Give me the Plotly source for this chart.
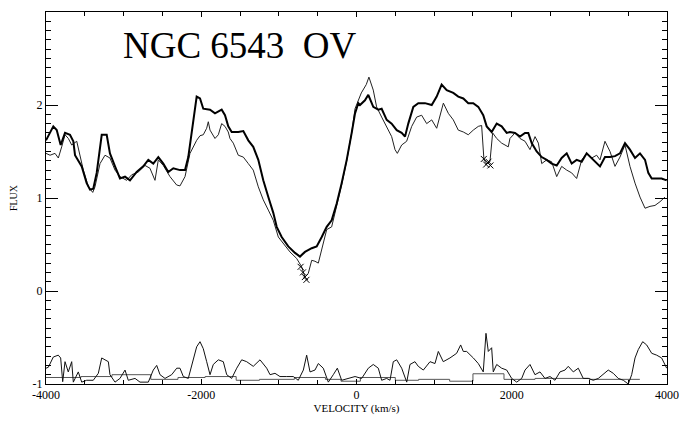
import plotly.graph_objects as go

# Thick spectrum (velocity km/s, flux)
v_thick = [-4000, -3906, -3862, -3811, -3755, -3691, -3648, -3626, -3540, -3476, -3433, -3391,
           -3347, -3304, -3282, -3218, -3176, -3111, -3047, -2982, -2918, -2832, -2747, -2682,
           -2618, -2553, -2489, -2425, -2360, -2274, -2209, -2167, -2102, -2059, -2016, -1974,
           -1887, -1823, -1737, -1694, -1652, -1608, -1523, -1458, -1394, -1330, -1265, -1201,
           -1136, -1072, -1028, -964, -879, -792, -728, -664, -577, -513, -448, -384, -320,
           -255, -191, -126, -62, -19, 23, 45, 109, 152, 216, 281, 324, 389, 453, 518, 582,
           625, 667, 732, 796, 882, 969, 1033, 1097, 1162, 1247, 1311, 1376, 1440, 1504, 1569,
           1633, 1677, 1741, 1806, 1870, 1935, 1977, 2042, 2106, 2171, 2213, 2257, 2321, 2386,
           2450, 2514, 2579, 2643, 2708, 2772, 2836, 2901, 2965, 3030, 3094, 3137, 3201, 3266,
           3330, 3394, 3459, 3523, 3588, 3652, 3717, 3759, 3803, 3867, 3931, 3996]
f_thick = [1.62, 1.77, 1.73, 1.57, 1.70, 1.68, 1.61, 1.46, 1.34, 1.16, 1.09, 1.10,
           1.27, 1.55, 1.68, 1.68, 1.48, 1.34, 1.21, 1.23, 1.19, 1.28, 1.34, 1.41,
           1.37, 1.44, 1.37, 1.28, 1.32, 1.30, 1.30, 1.44, 1.84, 2.09, 2.07, 1.96,
           1.95, 1.91, 1.95, 1.89, 1.77, 1.71, 1.71, 1.72, 1.62, 1.55, 1.41, 1.19,
           1.01, 0.84, 0.69, 0.58, 0.48, 0.41, 0.37, 0.42, 0.46, 0.48, 0.58, 0.69, 0.76,
           0.94, 1.16, 1.41, 1.70, 1.91, 2.02, 2.00, 2.05, 2.11, 1.98, 1.95, 1.96, 1.84, 1.80, 1.73, 1.70,
           1.66, 1.80, 1.98, 2.02, 2.02, 2.00, 2.09, 2.22, 2.16, 2.13, 2.09, 2.07, 2.02, 2.02, 1.98,
           1.89, 1.77, 1.71, 1.80, 1.77, 1.70, 1.71, 1.70, 1.66, 1.70, 1.70, 1.59, 1.50, 1.44,
           1.41, 1.37, 1.35, 1.43, 1.48, 1.37, 1.41, 1.39, 1.48, 1.43, 1.37, 1.34, 1.44, 1.44,
           1.45, 1.48, 1.59, 1.52, 1.43, 1.48, 1.41, 1.27, 1.21, 1.21, 1.21, 1.19]

# Thin spectrum
v_thin = [-4000, -3948, -3884, -3841, -3798, -3755, -3712, -3669, -3604, -3570, -3519, -3454,
          -3398, -3369, -3304, -3240, -3176, -3111, -3047, -2961, -2896, -2811, -2725, -2661,
          -2596, -2553, -2489, -2403, -2317, -2274, -2209, -2145, -2059, -2016, -1974, -1930,
          -1909, -1887, -1823, -1780, -1737, -1694, -1652, -1630, -1587, -1523, -1458, -1394,
          -1330, -1265, -1201, -1136, -1072, -1007, -943, -857, -771, -706, -664, -621, -577,
          -535, -492, -448, -384, -320, -255, -191, -126, -62, -19, 62, 126, 160, 216, 259,
          324, 389, 453, 496, 526, 582, 646, 711, 775, 839, 904, 969, 1033, 1119, 1183, 1247,
          1311, 1376, 1440, 1504, 1569, 1612, 1642, 1677, 1719, 1754, 1806, 1870, 1913, 1955,
          1977, 2042, 2106, 2171, 2235, 2300, 2343, 2386, 2450, 2514, 2579, 2643, 2708, 2772,
          2836, 2901, 2965, 3030, 3094, 3137, 3201, 3266, 3330, 3394, 3459, 3523, 3588, 3652,
          3717, 3781, 3845, 3910, 3974]
f_thin = [1.48, 1.46, 1.48, 1.43, 1.55, 1.68, 1.64, 1.57, 1.61, 1.48, 1.30, 1.12,
          1.06, 1.12, 1.37, 1.46, 1.43, 1.30, 1.23, 1.19, 1.25, 1.28, 1.35, 1.32,
          1.19, 1.41, 1.35, 1.23, 1.14, 1.13, 1.23, 1.48, 1.62, 1.67, 1.68, 1.75,
          1.82, 1.73, 1.64, 1.68, 1.80, 1.77, 1.71, 1.64, 1.59, 1.46, 1.44, 1.37,
          1.30, 1.12, 0.98, 0.87, 0.76, 0.58, 0.51, 0.42, 0.35, 0.26, 0.15, 0.19, 0.33,
          0.32, 0.30, 0.45, 0.66, 0.69, 0.91, 1.14, 1.40, 1.70, 1.96, 2.13, 2.22, 2.30, 2.16, 1.98,
          1.87, 1.77, 1.66, 1.52, 1.48, 1.57, 1.61, 1.77, 1.87, 1.89, 1.80, 1.84, 1.75, 2.02, 1.91, 1.84,
          1.73, 1.71, 1.68, 1.73, 1.77, 1.78, 1.41, 1.37, 1.39, 1.70, 1.64, 1.59, 1.57, 1.55,
          1.64, 1.70, 1.64, 1.61, 1.52, 1.66, 1.59, 1.37, 1.41, 1.39, 1.23, 1.34, 1.30, 1.27,
          1.21, 1.41, 1.48, 1.43, 1.46, 1.41, 1.61, 1.50, 1.34, 1.44, 1.57, 1.34, 1.16, 1.01,
          0.89, 0.91, 0.92, 0.96, 1.01]

# Residual / noise curve near the bottom
v_noise = [-4000, -3970, -3906, -3842, -3811, -3785, -3755, -3713, -3669, -3648, -3584, -3540,
           -3476, -3391, -3326, -3282, -3240, -3197, -3176, -3111, -3047, -2982, -2940, -2853,
           -2789, -2682, -2618, -2574, -2531, -2467, -2381, -2316, -2274, -2231, -2167, -2102,
           -2059, -2016, -1974, -1930, -1887, -1845, -1780, -1716, -1672, -1608, -1543, -1479,
           -1415, -1330, -1243, -1157, -1114, -1050, -986, -899, -814, -750, -685, -642, -599,
           -535, -492, -428, -363, -299, -247, -191, -106, -19, 67, 152, 216, 281, 324, 389,
           432, 474, 518, 582, 647, 689, 753, 796, 861, 947, 1011, 1054, 1118, 1204, 1290,
           1342, 1376, 1419, 1505, 1569, 1633, 1668, 1698, 1741, 1762, 1806, 1870, 1935, 1999,
           2064, 2128, 2171, 2235, 2299, 2364, 2428, 2493, 2557, 2621, 2686, 2728, 2793, 2857,
           2921, 2986, 3050, 3115, 3179, 3243, 3308, 3372, 3437, 3501, 3545, 3588, 3630, 3687,
           3738, 3803, 3867, 3931, 3996]
f_noise = [-0.83, -0.82, -0.71, -0.69, -0.72, -0.975, -0.76, -0.87, -0.76, -0.98, -0.87, -0.98,
           -0.96, -0.96, -0.885, -0.72, -0.74, -0.76, -0.90, -0.98, -0.94, -0.85, -0.96, -0.94,
           -0.98, -0.98, -0.85, -0.80, -0.90, -0.94, -0.90, -0.83, -0.83, -0.92, -0.94, -0.72,
           -0.60, -0.545, -0.62, -0.76, -0.90, -0.79, -0.74, -0.76, -0.90, -0.94, -0.83, -0.74,
           -0.76, -0.81, -0.74, -0.83, -0.90, -0.885, -0.92, -0.92, -0.92, -0.96, -0.85, -0.69, -0.87,
           -0.85, -0.78, -0.83, -0.98, -0.90, -0.83, -0.96, -0.94, -0.92, -0.94, -0.83, -0.79, -0.83, -0.96, -0.94,
           -0.96, -0.76, -0.74, -0.83, -0.98, -0.79, -0.76, -0.81, -0.85, -0.76, -0.78, -0.65, -0.76, -0.72, -0.67,
           -0.58, -0.65, -0.65, -0.72, -0.78, -0.87, -0.455, -0.65, -0.61, -0.87, -0.79, -0.83, -0.85, -0.94,
           -0.98, -0.94, -0.85, -0.79, -0.90, -0.87, -0.94, -0.92, -0.96, -0.87, -0.85, -0.81, -0.87, -0.83,
           -0.94, -0.94, -0.96, -0.94, -0.90, -0.85, -0.885, -0.94, -0.96, -1.0, -0.90, -0.72, -0.63, -0.545,
           -0.58, -0.67, -0.69, -0.72, -0.83]

# Step (binned) level near the bottom
v_step = [-4000, -3550, -3150, -2650, -2300, -1950, -1550, -1250, -800, -400, -200, 50,
          500, 800, 1200, 1500, 1900, 2300, 3000, 3650]
f_step = [-0.93, -0.92, -0.90, -0.95, -0.93, -0.92, -0.96, -0.95, -0.93, -0.95, -0.97, -0.93,
          -0.96, -0.95, -0.97, -0.89, -0.95, -0.94, -0.95, -0.95]

# Flagged points (crosses)
v_flag = [-720, -690, -665, -645, 1640, 1670, 1700, 1725]
f_flag = [0.26, 0.20, 0.15, 0.12, 1.42, 1.36, 1.39, 1.35]

SERIF = "Liberation Serif"

fig = go.Figure()
fig.add_trace(go.Scatter(x=v_step, y=f_step, mode="lines", line_shape="hv",
                         line=dict(color="#555555", width=1), hoverinfo="skip"))
fig.add_trace(go.Scatter(x=v_noise, y=f_noise, mode="lines",
                         line=dict(color="#111111", width=1), hoverinfo="skip"))
fig.add_trace(go.Scatter(x=v_thin, y=f_thin, mode="lines",
                         line=dict(color="#222222", width=1), hoverinfo="skip"))
fig.add_trace(go.Scatter(x=v_thick, y=f_thick, mode="lines",
                         line=dict(color="black", width=2), hoverinfo="skip"))
fig.add_trace(go.Scatter(x=v_flag, y=f_flag, mode="markers",
                         marker=dict(symbol="x-thin-open", size=6, color="black",
                                     line=dict(color="black", width=1)),
                         hoverinfo="skip"))

fig.add_annotation(x=-3030, y=2.64, xref="x", yref="y", text="NGC 6543  OV",
                   showarrow=False, xanchor="left", yanchor="middle",
                   font=dict(family=SERIF, size=37, color="black"))

# page body has an 8px margin, so the figure is sized/offset to land the plot
# area at the same place as in the reference
fig.update_layout(
    width=683, height=407,
    margin=dict(l=38, r=24, t=4, b=31, autoexpand=False),
    paper_bgcolor="white", plot_bgcolor="white",
    showlegend=False,
    font=dict(family=SERIF, size=11, color="black"),
)
fig.update_xaxes(
    range=[-4000, 4000], showgrid=False, zeroline=False, automargin=False,
    showline=True, linecolor="black", linewidth=1, mirror="allticks",
    ticks="inside", ticklen=5, tickwidth=1, tickcolor="black",
    tickvals=[-4000, -2000, 0, 2000, 4000],
    ticktext=["-4000", "-2000", "0", "2000", "4000"],
    minor=dict(dtick=500, ticks="inside", ticklen=4, tickcolor="black", showgrid=False),
    tickfont=dict(family=SERIF, size=12, color="black"),
    title=dict(text="VELOCITY (km/s)", font=dict(family=SERIF, size=11, color="black"), standoff=0),
)
fig.update_yaxes(
    range=[-1, 3], showgrid=False, zeroline=False, automargin=False,
    showline=True, linecolor="black", linewidth=1, mirror="allticks",
    ticks="inside", ticklen=12, tickwidth=1, tickcolor="black",
    tickvals=[-1, 0, 1, 2, 3], ticktext=["-1", "0", "1", "2", "3"],
    minor=dict(dtick=0.1, ticks="inside", ticklen=5, tickcolor="black", showgrid=False),
    tickfont=dict(family=SERIF, size=12, color="black"),
    title=dict(text="FLUX", font=dict(family=SERIF, size=10, color="black"), standoff=22),
)

fig.write_html("out.html")
